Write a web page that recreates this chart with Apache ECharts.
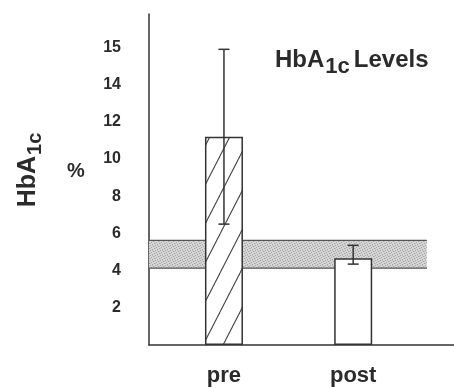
<!DOCTYPE html>
<html>
<head>
<meta charset="utf-8">
<script src="https://cdn.jsdelivr.net/npm/echarts@6/dist/echarts.min.js"></script>
<style>
  html, body { margin: 0; padding: 0; background: #fff; }
  #chart { width: 454px; height: 388px; }
</style>
</head>
<body>
<div id="chart"></div>
<script>
// HbA1c (%) before and after, mean with error range, normal range band
const categories = ['pre', 'post'];
const means = [11.2, 4.67];
const errLow = [6.5, 4.35];
const errHigh = [15.9, 5.36];
const normalRange = [4.13, 5.63];
const yTickValues = [2, 4, 6, 8, 10, 12, 14, 16];
const yTickLabels = ['2', '4', '6', '8', '10', '12', '14', '15'];

const FONT = '"Liberation Sans", Arial, Helvetica, sans-serif';
const INK = '#2b2b2b';
const BAND_END = 1.57;   // right end of the normal-range band on the x scale

// diagonal hatch tile for the "pre" bar
function hatchTile() {
  const w = 20, h = 39;
  const c = document.createElement('canvas');
  c.width = w; c.height = h;
  const g = c.getContext('2d');
  g.fillStyle = '#fff';
  g.fillRect(0, 0, w, h);
  g.strokeStyle = '#444';
  g.lineWidth = 1.1;
  for (const off of [-w, 0, w]) {
    g.beginPath();
    g.moveTo(off, h);
    g.lineTo(off + w, 0);
    g.stroke();
  }
  return c;
}

// fine stipple tile for the shaded band
function stippleTile() {
  const c = document.createElement('canvas');
  c.width = 5; c.height = 5;
  const g = c.getContext('2d');
  g.fillStyle = '#d6d6d6';
  g.fillRect(0, 0, 5, 5);
  g.fillStyle = '#a4a4a4';
  [[0, 0], [3, 1], [1, 2], [4, 3], [2, 4]].forEach(([x, y]) => g.fillRect(x, y, 1, 1));
  g.fillStyle = '#bdbdbd';
  [[2, 0], [0, 3], [4, 1]].forEach(([x, y]) => g.fillRect(x, y, 1, 1));
  return c;
}

const hatch = { image: hatchTile(), repeat: 'repeat' };
const stipple = { image: stippleTile(), repeat: 'repeat' };

const chart = echarts.init(document.getElementById('chart'), null, { renderer: 'canvas' });

chart.setOption({
  backgroundColor: '#fff',
  animation: false,
  grid: { left: 149, right: 0, top: 14, bottom: 43 },
  xAxis: {
    type: 'value',
    min: -0.58,
    max: 1.78,
    splitLine: { show: false },
    axisTick: { show: false },
    axisLine: { show: true, onZero: false, lineStyle: { color: '#333', width: 1.5 } },
    axisLabel: {
      customValues: categories.map((_, i) => i),
      formatter: v => categories[Math.round(v)] || '',
      margin: 20,
      fontFamily: FONT,
      fontWeight: 'bold',
      fontSize: 22,
      color: INK
    }
  },
  yAxis: {
    type: 'value',
    min: 0,
    max: 17.8,
    splitLine: { show: false },
    axisTick: { show: false },
    axisLine: { show: true, onZero: false, lineStyle: { color: '#333', width: 1.5 } },
    axisLabel: {
      customValues: yTickValues,
      formatter: v => yTickLabels[yTickValues.indexOf(v)] || '',
      margin: 28,
      fontFamily: FONT,
      fontWeight: 'bold',
      fontSize: 16,
      color: INK
    }
  },
  graphic: [
    {
      type: 'text',
      x: 275, y: 48,
      style: {
        text: '{a|HbA}{s|1c}{b|Levels}',
        fill: INK,
        rich: {
          a: { fontFamily: FONT, fontWeight: 'bold', fontSize: 24, lineHeight: 24, verticalAlign: 'top', fill: INK },
          s: { fontFamily: FONT, fontWeight: 'bold', fontSize: 22, lineHeight: 22, verticalAlign: 'top', padding: [8, 0, 0, 1], fill: INK },
          b: { fontFamily: FONT, fontWeight: 'bold', fontSize: 24, lineHeight: 24, verticalAlign: 'top', padding: [0, 0, 0, 4], fill: INK }
        }
      }
    },
    {
      type: 'text',
      x: 28, y: 170,
      rotation: Math.PI / 2,
      style: {
        text: '{a|HbA}{s|1c}',
        align: 'center',
        verticalAlign: 'middle',
        fill: INK,
        rich: {
          a: { fontFamily: FONT, fontWeight: 'bold', fontSize: 25, lineHeight: 25, verticalAlign: 'top', fill: INK },
          s: { fontFamily: FONT, fontWeight: 'bold', fontSize: 20, lineHeight: 20, verticalAlign: 'top', padding: [10, 0, 0, 1], fill: INK }
        }
      }
    },
    {
      type: 'text',
      x: 76, y: 171,
      style: {
        text: '%',
        align: 'center',
        verticalAlign: 'middle',
        fontFamily: FONT,
        fontWeight: 'bold',
        fontSize: 20,
        fill: INK
      }
    }
  ],
  series: [
    {
      // normal range band
      type: 'custom',
      z: 1,
      data: [[normalRange[0], normalRange[1]]],
      renderItem: (params, api) => {
        const cs = params.coordSys;
        const top = api.coord([0, api.value(1)])[1];
        const bot = api.coord([0, api.value(0)])[1];
        const right = api.coord([BAND_END, 0])[0];
        const left = cs.x;
        return {
          type: 'group',
          children: [
            { type: 'rect', shape: { x: left, y: top, width: right - left, height: bot - top }, style: { fill: stipple } },
            { type: 'line', shape: { x1: left, y1: top, x2: right, y2: top }, style: { stroke: '#555', lineWidth: 1.2 } },
            { type: 'line', shape: { x1: left, y1: bot, x2: right, y2: bot }, style: { stroke: '#555', lineWidth: 1.2 } }
          ]
        };
      }
    },
    {
      type: 'bar',
      z: 2,
      barWidth: 38,
      data: means.map((m, i) => ({
        value: [i, m],
        itemStyle: { color: i === 0 ? hatch : '#fff', borderColor: '#333', borderWidth: 1.5 }
      }))
    },
    {
      // error bars
      type: 'custom',
      z: 3,
      data: categories.map((_, i) => [i, errLow[i], errHigh[i]]),
      renderItem: (params, api) => {
        const lo = api.coord([api.value(0), api.value(1)]);
        const hi = api.coord([api.value(0), api.value(2)]);
        const cap = 5.5;
        const st = { stroke: '#333', lineWidth: 1.5 };
        return {
          type: 'group',
          children: [
            { type: 'line', shape: { x1: hi[0], y1: hi[1], x2: lo[0], y2: lo[1] }, style: st },
            { type: 'line', shape: { x1: hi[0] - cap, y1: hi[1], x2: hi[0] + cap, y2: hi[1] }, style: st },
            { type: 'line', shape: { x1: lo[0] - cap, y1: lo[1], x2: lo[0] + cap, y2: lo[1] }, style: st }
          ]
        };
      }
    }
  ]
});
</script>
</body>
</html>
